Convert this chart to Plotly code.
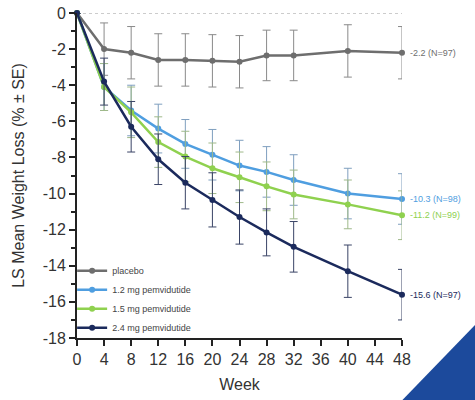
import plotly.graph_objects as go

weeks = [0, 4, 8, 12, 16, 20, 24, 28, 32, 40, 48]

placebo = [0, -2.0, -2.2, -2.6, -2.6, -2.65, -2.7, -2.35, -2.35, -2.1, -2.2]
placebo_se = [0, 1.45, 1.45, 1.45, 1.45, 1.45, 1.45, 1.4, 1.4, 1.45, 1.45]

pem_12 = [0, -4.1, -5.4, -6.4, -7.25, -7.85, -8.45, -8.8, -9.25, -10.0, -10.3]
pem_12_se = [0, 1.3, 1.4, 1.35, 1.35, 1.4, 1.4, 1.4, 1.4, 1.4, 1.4]

pem_15 = [0, -4.1, -5.5, -7.15, -7.95, -8.6, -9.1, -9.6, -10.05, -10.6, -11.2]
pem_15_se = [0, 1.3, 1.4, 1.4, 1.4, 1.4, 1.4, 1.35, 1.35, 1.35, 1.35]

pem_24 = [0, -3.8, -6.3, -8.1, -9.4, -10.35, -11.3, -12.15, -12.95, -14.3, -15.6]
pem_24_se = [0, 1.3, 1.4, 1.4, 1.45, 1.5, 1.5, 1.3, 1.4, 1.45, 1.4]

series_names = ["placebo", "1.2 mg pemvidutide", "1.5 mg pemvidutide", "2.4 mg pemvidutide"]
end_labels = ["-2.2 (N=97)", "-10.3 (N=98)", "-11.2 (N=99)", "-15.6 (N=97)"]

y_ticks = [0, -2, -4, -6, -8, -10, -12, -14, -16, -18]
x_ticks = [0, 4, 8, 12, 16, 20, 24, 28, 32, 36, 40, 44, 48]

colors = ["#6e6e6e", "#4f9ee0", "#8fd14f", "#1b2a5c"]
err_colors = ["#8a8a8a", "#7f9fbf", "#9fb98a", "#3a4466"]

FONT = "Liberation Sans Narrow, Liberation Sans, Arial, sans-serif"

fig = go.Figure()

all_means = [placebo, pem_12, pem_15, pem_24]
all_se = [placebo_se, pem_12_se, pem_15_se, pem_24_se]

for name, ys, se, c, ec in zip(series_names, all_means, all_se, colors, err_colors):
    fig.add_trace(go.Scatter(
        x=weeks, y=ys, name=name, mode="lines+markers",
        line=dict(color=c, width=2.5),
        marker=dict(color=c, size=6, symbol="circle"),
        error_y=dict(type="data", array=[s if s > 0 else None for s in se],
                     color=ec, thickness=1, width=4),
        cliponaxis=False,
    ))

for ys, lab, c in zip(all_means, end_labels, colors):
    fig.add_annotation(x=weeks[-1], y=ys[-1], text=lab, showarrow=False,
                       xanchor="left", yanchor="middle", xshift=6,
                       font=dict(family=FONT, size=9, color=c))

# dotted baseline at zero
fig.add_shape(type="line", xref="x", yref="y", x0=weeks[0], x1=weeks[-1], y0=0, y1=0,
              line=dict(color="#999999", width=1.2, dash="dot"), layer="below")

# decorative corner triangle
fig.add_shape(type="path", xref="paper", yref="paper",
              path="M 0.944,-0.25 L 1.3,0.118 L 1.3,-0.25 Z",
              fillcolor="#1c4a9c", line=dict(width=0), layer="above")

fig.update_layout(
    width=475, height=400,
    margin=dict(l=77, r=73, t=13, b=62, autoexpand=False),
    paper_bgcolor="white", plot_bgcolor="white",
    font=dict(family=FONT, color="#333333"),
    showlegend=True,
    legend=dict(x=-0.015, y=-0.013, xanchor="left", yanchor="bottom",
                font=dict(family=FONT, size=9, color="#444444"),
                bgcolor="rgba(0,0,0,0)", tracegroupgap=0, itemwidth=30),
    xaxis=dict(range=[0, 48], tickvals=x_ticks, ticktext=[str(v) for v in x_ticks],
               automargin=False,
               showgrid=False, zeroline=False, showline=True, linecolor="#222222",
               linewidth=2, ticks="outside", ticklen=6, tickwidth=2, tickcolor="#222222",
               tickfont=dict(family=FONT, size=16, color="#333333"),
               title=dict(text="Week", font=dict(family=FONT, size=16, color="#333333"),
                          standoff=12)),
    yaxis=dict(range=[-18, 0], tickvals=y_ticks, ticktext=[str(v) for v in y_ticks],
               automargin=False,
               showgrid=False, zeroline=False, showline=True, linecolor="#222222",
               linewidth=2, ticks="outside", ticklen=6, tickwidth=2, tickcolor="#222222",
               minor=dict(dtick=1, ticks="outside", ticklen=4, tickwidth=1.5, tickcolor="#222222"),
               tickfont=dict(family=FONT, size=16, color="#333333"),
               title=dict(text="LS Mean Weight Loss (% ± SE)",
                          font=dict(family=FONT, size=16, color="#333333"), standoff=14)),
)

fig.write_html("out.html", config={"displayModeBar": False},
               post_script="document.body.style.margin='0';document.body.style.overflow='hidden';")
